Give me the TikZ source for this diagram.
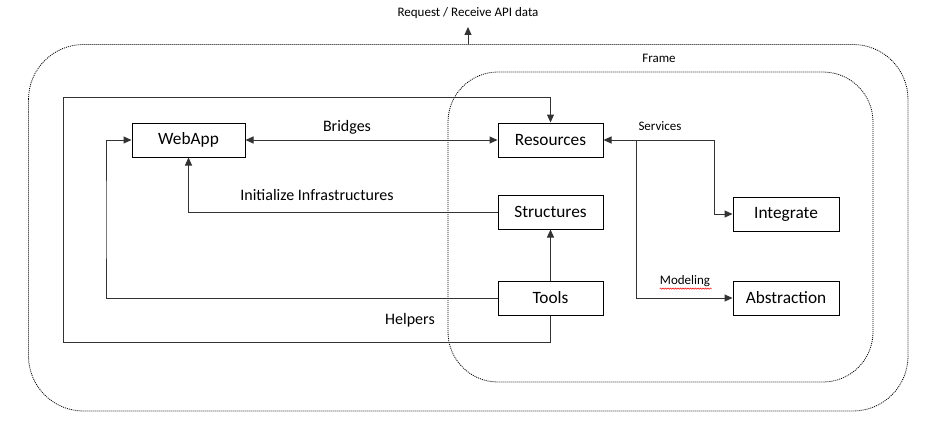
\documentclass[tikz,border=0pt]{standalone}
\usepackage{fontspec}
\setmainfont{Carlito}
\usetikzlibrary{arrows.meta,decorations.pathmorphing}
\begin{document}
\begin{tikzpicture}[x=1pt,y=-1pt,
  box/.style={draw=black,line width=1pt,minimum height=34pt,inner sep=0pt,font=\fontsize{17.3}{20}\selectfont},
  conn/.style={draw=black!80,line width=1pt},
  tip/.style={-{Triangle[length=8pt,width=7pt]}},
  dtip/.style={{Triangle[length=8pt,width=7pt]}-{Triangle[length=8pt,width=7pt]}},
  frame/.style={draw=black,line width=0.8pt,dash pattern=on 1pt off 1pt},
  lbl/.style={font=\fontsize{16}{19}\selectfont,inner sep=0pt},
  small/.style={font=\fontsize{13}{15}\selectfont,inner sep=0pt}]
\useasboundingbox (0,0) rectangle (933,433);
\fill[white] (0,0) rectangle (933,433);
% frames
\draw[frame,rounded corners=55pt] (28.5,44.5) rectangle (908,411);
\draw[frame,rounded corners=50pt] (448,72) rectangle (873,382);
% boxes
\node[box,minimum width=113pt] (WebApp) at (188.5,140) {WebApp};
\node[box,minimum width=105pt] (Resources) at (550.5,140) {Resources};
\node[box,minimum width=105pt] (Structures) at (550.5,212) {Structures};
\node[box,minimum width=105pt] (Tools) at (550.5,298) {Tools};
\node[box,minimum width=106pt] (Integrate) at (786,214) {Integrate};
\node[box,minimum width=106pt] (Abstraction) at (786,298) {Abstraction};
% labels
\node[small] (req) at (468,13) {Request / Receive API data};
\node[small] (frm) at (659,58) {Frame};
\node[lbl] (brg) at (347,127) {Bridges};
\node[lbl] (ini) at (317,195) {Initialize Infrastructures};
\node[lbl] (hlp) at (410,320) {Helpers};
\node[small] (srv) at (660,126) {Services};
\node[small] (mdl) at (685,281) {Modeling};
\draw[red,line width=0.5pt,decorate,decoration={snake,segment length=2.5pt,amplitude=0.7pt}] (mdl.south west)++(0,1.8) -- ++(52,0);
% coordinates
\coordinate (apitop) at (468,27);
\coordinate (apibot) at (468,44.5);
\coordinate (hbl) at (63,342);
\coordinate (htl) at (63,98);
\coordinate (tv) at (106,220);
\coordinate (sv) at (714,180);
\coordinate (mv) at (636,140);
% connectors
\draw[conn,tip] (apibot) -- (apitop);
\draw[conn,tip] (Tools.south) |- (hbl) -- (htl) -| (Resources.north);
\draw[conn,tip] (Tools.west) -| (tv) |- (WebApp.west);
\draw[conn,tip] (Structures.west) -| (WebApp.south);
\draw[conn,dtip] (WebApp.east) -- (Resources.west);
\draw[conn,tip] (Tools.north) -- (Structures.south);
\draw[conn,dtip] (Resources.east) -| (sv) |- (Integrate.west);
\draw[conn,tip] (mv) |- (Abstraction.west);
\end{tikzpicture}
\end{document}
